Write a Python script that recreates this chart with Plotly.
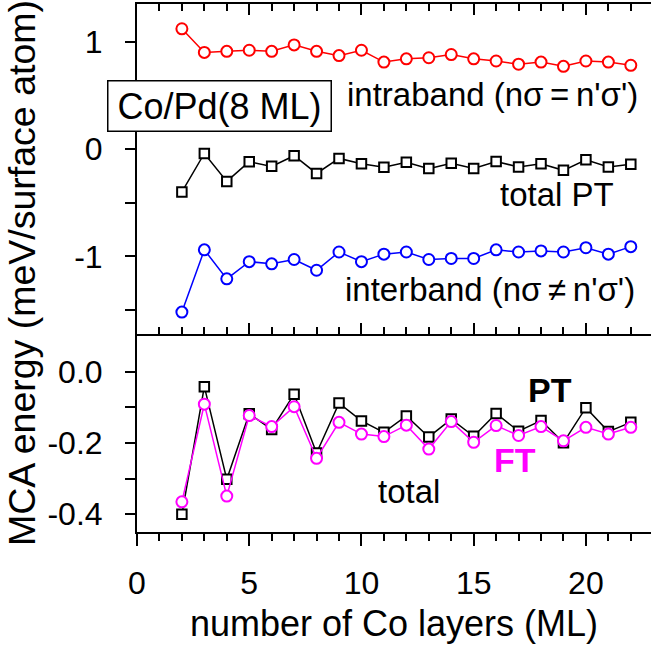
import plotly.graph_objects as go

# Number of Co monolayers
layers = list(range(2, 23))

# MCA energy contributions (meV / surface atom), perturbation theory (PT)
intraband = [1.12, 0.90, 0.91, 0.92, 0.91, 0.97, 0.91, 0.87, 0.92, 0.81, 0.84,
             0.85, 0.88, 0.84, 0.82, 0.79, 0.81, 0.77, 0.82, 0.81, 0.78]
interband = [-1.52, -0.94, -1.21, -1.05, -1.07, -1.03, -1.13, -0.96, -1.05, -0.98, -0.96,
             -1.03, -1.02, -1.02, -0.94, -0.96, -0.95, -0.96, -0.92, -0.98, -0.91]
total_pt = [-0.400, -0.042, -0.302, -0.118, -0.162, -0.063, -0.228, -0.088, -0.138, -0.170, -0.124,
            -0.183, -0.133, -0.181, -0.117, -0.167, -0.137, -0.199, -0.101, -0.168, -0.142]
# Force theorem (FT) total
total_ft = [-0.365, -0.091, -0.349, -0.123, -0.154, -0.098, -0.243, -0.142, -0.175, -0.182, -0.150,
            -0.217, -0.140, -0.198, -0.151, -0.179, -0.154, -0.194, -0.156, -0.175, -0.156]

x_major = [0, 5, 10, 15, 20]
x_minor = list(range(0, 23))
top_major = [1, 0, -1]
top_major_text = ["1", "0", "-1"]
top_minor = [0.5, -0.5, -1.5]
bot_major = [0.0, -0.2, -0.4]
bot_major_text = ["0.0", "-0.2", "-0.4"]
bot_minor = [-0.1, -0.3]

FONT = "Liberation Sans, Arial, sans-serif"
X_RANGE = [0, 22.9]
TOP_RANGE = [-1.724, 1.351]
BOT_RANGE = [-0.4497, 0.1058]


def series(x, y, color, symbol, xa, ya, size):
    return go.Scatter(
        x=x, y=y, xaxis=xa, yaxis=ya, mode="lines+markers",
        line=dict(color=color, width=1.5),
        marker=dict(symbol=symbol, size=size, color="white",
                    line=dict(color=color, width=2)),
        showlegend=False, hoverinfo="skip",
    )


fig = go.Figure()
# upper panel: decomposition
fig.add_trace(series(layers, intraband, "#ff0000", "circle", "x2", "y2", 11))
fig.add_trace(series(layers, total_pt, "black", "square", "x2", "y2", 9.5))
fig.add_trace(series(layers, interband, "#0000ff", "circle", "x2", "y2", 11))
# lower panel: total PT vs FT
fig.add_trace(series(layers, total_pt, "black", "square", "x", "y", 9.5))
fig.add_trace(series(layers, total_ft, "#ff00ff", "circle", "x", "y", 11))

axis_common = dict(showgrid=False, zeroline=False, linecolor="black", linewidth=2,
                   tickcolor="black", tickwidth=2,
                   tickfont=dict(family=FONT, size=32, color="black"))


def minor(vals, side, length):
    return dict(tickvals=vals, ticks=side, ticklen=length, tickwidth=2, tickcolor="black",
                showgrid=False)


fig.update_layout(
    width=651, height=650,
    margin=dict(l=137, r=0, t=4, b=118),
    paper_bgcolor="white", plot_bgcolor="white",
    font=dict(family=FONT, color="black"),
    xaxis=dict(**axis_common, domain=[0, 1], anchor="y", range=X_RANGE,
               showline=True, ticks="outside", tickvals=x_major, ticklen=12,
               minor=minor(x_minor, "outside", 7), ticklabelstandoff=10,
               title=dict(text="number of Co layers (ML)",
                          font=dict(family=FONT, size=36, color="black"), standoff=10)),
    xaxis3=dict(**axis_common, overlaying="x", anchor="y", side="top", range=X_RANGE,
                showline=False, ticks="inside", tickvals=x_major, ticklen=11,
                minor=minor(x_minor, "inside", 7), showticklabels=False),
    xaxis2=dict(**axis_common, anchor="y2", matches="x", range=X_RANGE,
                showline=True, mirror="ticks", ticks="inside", tickvals=x_major, ticklen=11,
                minor=minor(x_minor, "inside", 7), showticklabels=False),
    yaxis=dict(**axis_common, domain=[0, 0.375], anchor="x", range=BOT_RANGE,
               showline=True, ticks="outside", tickvals=bot_major, ticktext=bot_major_text,
               ticklen=10, minor=minor(bot_minor, "outside", 10), ticklabelstandoff=16),
    yaxis3=dict(**axis_common, overlaying="y", anchor="x", side="right", range=BOT_RANGE,
                showline=False, ticks="inside", tickvals=bot_major + bot_minor, ticklen=9,
                showticklabels=False),
    yaxis2=dict(**axis_common, domain=[0.375, 1], anchor="x2", range=TOP_RANGE,
                showline=True, ticks="outside", tickvals=top_major, ticktext=top_major_text,
                ticklen=10, minor=minor(top_minor, "outside", 10), ticklabelstandoff=16),
    yaxis4=dict(**axis_common, overlaying="y2", anchor="x2", side="right", range=TOP_RANGE,
                showline=False, ticks="inside", tickvals=top_major + top_minor, ticklen=9,
                showticklabels=False),
)

txt = dict(family=FONT, size=33, color="black")
bold = dict(family=FONT, size=34, color="black", weight="bold")
annotations = [
    dict(text="intraband (n\u03c3\u2009=\u2009n'\u03c3')", x=22.39, y=0.51, xref="x2", yref="y2",
         xanchor="right", yanchor="middle", font=txt),
    dict(text="total PT", x=21.35, y=-0.42, xref="x2", yref="y2",
         xanchor="right", yanchor="middle", font=txt),
    dict(text="interband (n\u03c3\u2009\u2260\u2009n'\u03c3')", x=22.28, y=-1.31, xref="x2", yref="y2",
         xanchor="right", yanchor="middle", font=txt),
    dict(text="Co/Pd(8 ML)", x=3.68, y=0.405, xref="x2", yref="y2",
         xanchor="center", yanchor="middle", font=dict(family=FONT, size=36, color="black"),
         bgcolor="white", bordercolor="black", borderwidth=1.5, borderpad=0,
         width=222, height=49),
    dict(text="PT", x=18.38, y=-0.051, xref="x", yref="y",
         xanchor="center", yanchor="middle", font=bold),
    dict(text="FT", x=16.86, y=-0.249, xref="x", yref="y",
         xanchor="center", yanchor="middle", font=dict(bold, color="#ff00ff")),
    dict(text="total", x=12.14, y=-0.335, xref="x", yref="y",
         xanchor="center", yanchor="middle", font=txt),
    # y-title spanning both panels, placed in pixels left of the plot area
    dict(text="MCA energy (meV/surface atom)", textangle=-90, x=-115 / (651 - 137),
         xref="paper", y=0.4905, yref="paper", xanchor="center", yanchor="middle",
         font=dict(family=FONT, size=37.5, color="black")),
]
for a in annotations:
    a["showarrow"] = False
fig.update_layout(annotations=annotations)

fig.write_html("out.html")
